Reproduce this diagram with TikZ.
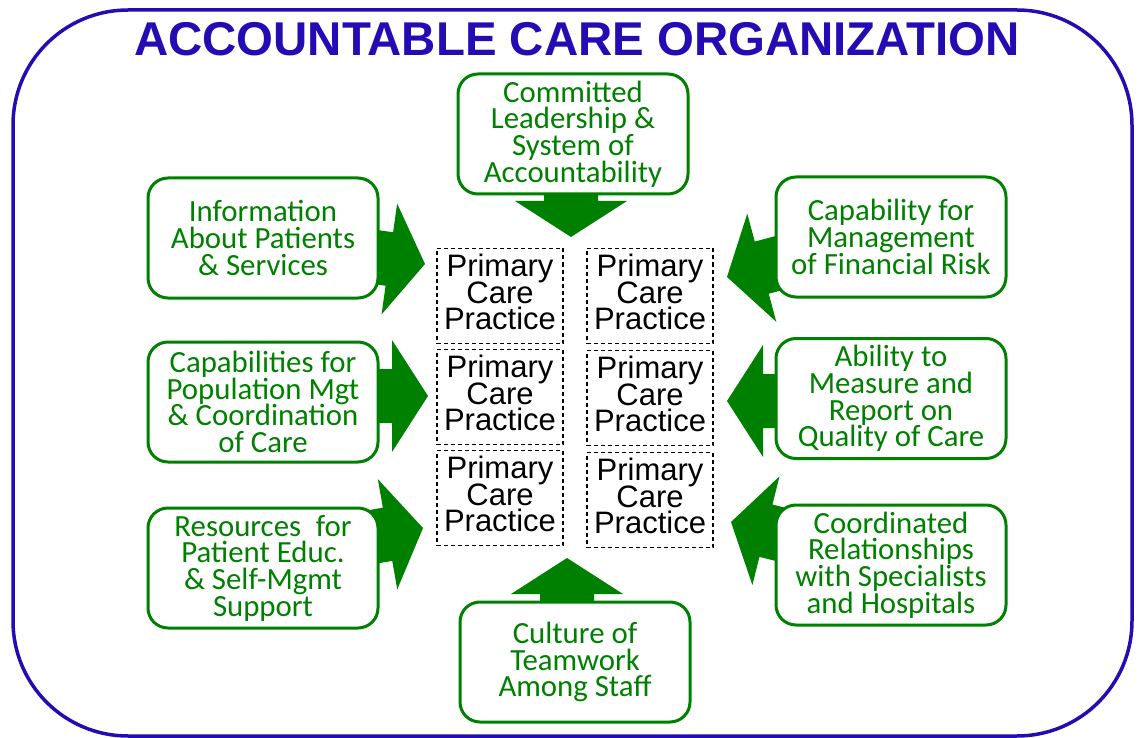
\documentclass[tikz,border=0pt]{standalone}
\usepackage{fontspec}
\newfontfamily\carlito{Carlito}
\newfontfamily\arialf{Liberation Sans}
\definecolor{ggreen}{RGB}{0,128,0}
\definecolor{fblue}{RGB}{36,12,180}
\newcommand{\tightlines}{\setlength{\lineskiplimit}{-50pt}}
\newcommand{\blockarr}[2]{%
  \fill[arrowfill, shift={(#1)}, rotate=#2] (0,0) -- (-36,-56) -- (-36,-27) -- (-110,-27) -- (-110,27) -- (-36,27) -- (-36,56) -- cycle;}
\begin{document}
\begin{tikzpicture}[x=1pt,y=-1pt,
  arrowfill/.style={fill=ggreen},
  frame/.style={draw=fblue, line width=3.5pt, rounded corners=115pt},
  titlestyle/.style={text=fblue, font=\arialf\bfseries\fontsize{47.4}{50}\selectfont, inner sep=0pt},
  gbox/.style={draw=ggreen, line width=3pt, fill=white, rounded corners=20pt,
    minimum width=230pt, minimum height=120pt, inner sep=0pt, align=center,
    text=ggreen, font=\carlito\fontsize{30.8}{26.7}\selectfont\tightlines},
  pbox/.style={draw=black, line width=1.2pt, dash pattern=on 4pt off 3pt,
    minimum width=126pt, minimum height=95pt, inner sep=0pt, align=center,
    text depth=8pt, font=\arialf\fontsize{31}{26.5}\selectfont\tightlines}]
\useasboundingbox (0,0) rectangle (1141,738);
\draw[frame] (13,10) rectangle (1132,736);
\node[titlestyle, anchor=base] (title) at (577,56) {ACCOUNTABLE CARE ORGANIZATION};

% arrow tips
\coordinate (tT) at (571,237);
\coordinate (tB) at (567,558);
\coordinate (tLT) at (425,264);
\coordinate (tLM) at (428,396);
\coordinate (tLB) at (423,528);
\coordinate (tRT) at (727,277);
\coordinate (tRM) at (727,401);
\coordinate (tRB) at (731,522);
\blockarr{tT}{-90}
\blockarr{tB}{90}
\blockarr{tLT}{-8}
\blockarr{tLM}{0}
\blockarr{tLB}{10}
\blockarr{tRT}{195}
\blockarr{tRM}{180}
\blockarr{tRB}{166}

% green boxes
\node[gbox] (top) at (573,134) {Committed\\Leadership \&\\System of\\Accountability};
\node[gbox] (lt) at (263,238) {Information\\About Patients\\\& Services};
\node[gbox] (lm) at (263,402) {Capabilities for\\Population Mgt\\\& Coordination\\of Care};
\node[gbox] (lb) at (263,568) {Resources\hspace{0.25em} for\\Patient Educ.\\\& Self-Mgmt\\Support};
\node[gbox] (rt) at (891,237) {Capability for\\Management\\of Financial Risk};
\node[gbox] (rm) at (891,398.5) {Ability to\\Measure and\\Report on\\Quality of Care};
\node[gbox] (rb) at (891,565) {Coordinated\\Relationships\\with Specialists\\and Hospitals};
\node[gbox] (bot) at (575,662) {Culture of\\Teamwork\\Among Staff};

% practices
\node[pbox] (p11) at (500,296) {Primary\\Care\\Practice};
\node[pbox] (p12) at (650,296) {Primary\\Care\\Practice};
\node[pbox] (p21) at (500,397) {Primary\\Care\\Practice};
\node[pbox] (p22) at (650,398) {Primary\\Care\\Practice};
\node[pbox] (p31) at (500,498) {Primary\\Care\\Practice};
\node[pbox] (p32) at (650,500) {Primary\\Care\\Practice};
\end{tikzpicture}
\end{document}
